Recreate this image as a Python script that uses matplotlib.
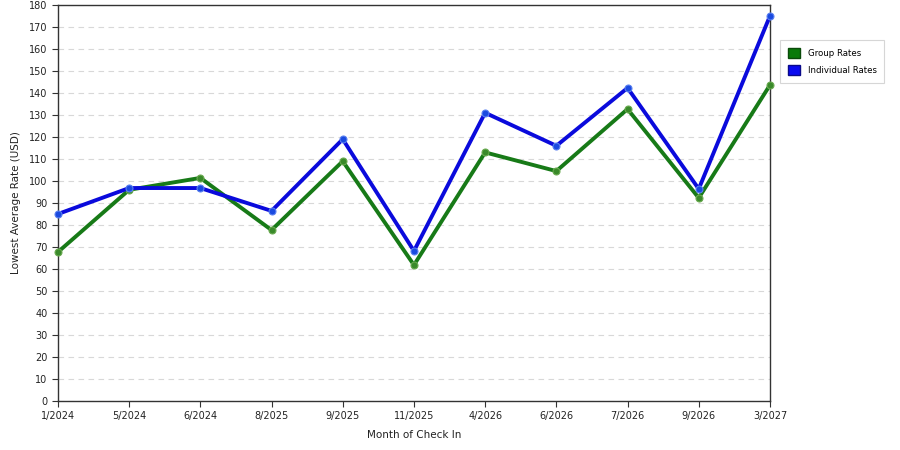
import matplotlib
matplotlib.use("Agg")
import matplotlib.pyplot as plt
from matplotlib.patches import Patch
import numpy as np

months = ["1/2024", "5/2024", "6/2024", "8/2025", "9/2025", "11/2025",
          "4/2026", "6/2026", "7/2026", "9/2026", "3/2027"]
group_rates = [67.7, 96, 101.4, 77.7, 109, 61.8, 113, 104.5, 132.7, 92.3, 143.6]
individual_rates = [85, 96.8, 96.8, 86.4, 119, 68.2, 131, 116, 142.3, 96.4, 175]

plt.rcParams['font.family'] = ['DejaVu Sans']
fig = plt.figure(figsize=(9, 4.5), dpi=100)
ax = fig.add_axes([0.0644, 0.1089, 0.7911, 0.88])

x = np.arange(len(months))
green = '#177a17'
blue = '#0a0adc'
ax.plot(x, group_rates, color=green, lw=2.8, marker='o', ms=5, clip_on=False,
        markerfacecolor='#3a8a2a', markeredgecolor='#6aaa50', markeredgewidth=0.8, zorder=3)
ax.plot(x, individual_rates, color=blue, lw=2.8, marker='o', ms=5, clip_on=False,
        markerfacecolor='#1a4ae0', markeredgecolor='#5a80f0', markeredgewidth=0.8, zorder=4)

ax.set_xlim(0, len(months) - 1)
ax.set_ylim(0, 180)
ax.set_yticks(np.arange(0, 181, 10))
ax.set_xticks(x)
ax.set_xticklabels(months)
ax.tick_params(labelsize=7, direction='out', length=4, color='#333333', labelcolor='#222222')
ax.yaxis.grid(True, linestyle=(0, (5, 4)), color='#d8d8d8', lw=0.8)
ax.set_axisbelow(True)
for s in ax.spines.values():
    s.set_color('#333333')
    s.set_linewidth(1)

ax.set_xlabel("Month of Check In", fontsize=7.5, color='#222222', labelpad=6)
ax.set_ylabel("Lowest Average Rate (USD)", fontsize=7.5, color='#222222', labelpad=6)

handles = [Patch(facecolor='#0a7a0a', edgecolor='#0a4a0a', label='Group Rates'),
           Patch(facecolor='#0a0af0', edgecolor='#0a0a8a', label='Individual Rates')]
leg = fig.legend(handles=handles, loc='upper left', bbox_to_anchor=(0.8667, 0.911),
                 fontsize=6.2, frameon=True, fancybox=False, handlelength=1.4,
                 handleheight=1.4, borderpad=0.9, labelspacing=0.9, handletextpad=0.9,
                 borderaxespad=0)
leg.get_frame().set_edgecolor('#cccccc')
leg.get_frame().set_linewidth(0.8)

fig.savefig("out.png", dpi=100)
